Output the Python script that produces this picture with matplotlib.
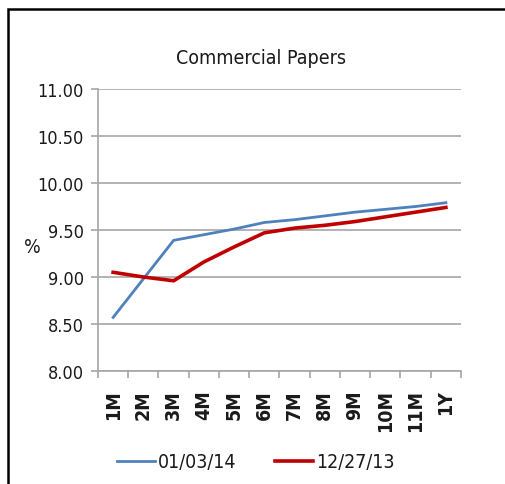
import matplotlib.pyplot as plt
from matplotlib.patches import Rectangle
from matplotlib.ticker import FixedLocator, MultipleLocator

# tenors and yields (%)
tenors = ["1M", "2M", "3M", "4M", "5M", "6M", "7M", "8M", "9M", "10M", "11M", "1Y"]
cp_010314 = [8.57, 8.98, 9.39, 9.45, 9.51, 9.58, 9.61, 9.65, 9.69, 9.72, 9.75, 9.79]
cp_122713 = [9.05, 9.00, 8.96, 9.16, 9.32, 9.47, 9.52, 9.55, 9.59, 9.64, 9.69, 9.74]

plt.rcParams['font.family'] = ['DejaVu Sans']
plt.rcParams['font.stretch'] = 'condensed'

W, H = 506, 485
fig = plt.figure(figsize=(W / 100, H / 100), dpi=100)
ax = fig.add_axes([98 / W, 1 - 372 / H, (461 - 98) / W, (372 - 90) / H])

x = range(len(tenors))
ax.plot(x, cp_010314, color='#4f81bd', lw=2.0, label='01/03/14', solid_joinstyle='miter')
ax.plot(x, cp_122713, color='#c00000', lw=2.6, label='12/27/13', solid_joinstyle='miter')

ax.set_xlim(-0.5, len(tenors) - 0.5)
ax.set_ylim(8.0, 11.0)
ax.yaxis.set_major_locator(MultipleLocator(0.5))
ax.yaxis.set_major_formatter(lambda v, p: f"{v:.2f}")
ax.grid(axis='y', color='#a6a6a6', lw=1.2)
ax.set_axisbelow(True)

ax.set_xticks(list(x))
ax.set_xticklabels(tenors, rotation=90, fontsize=14, fontweight='bold', color='#1a1a1a')
ax.xaxis.set_minor_locator(FixedLocator([i - 0.5 for i in range(len(tenors) + 1)]))
ax.tick_params(axis='x', which='major', length=0, pad=13)
ax.tick_params(axis='x', which='minor', length=5, color='#a6a6a6', width=1.2)
ax.tick_params(axis='y', length=5, color='#a6a6a6', width=1.2, labelsize=13,
               labelcolor='#1a1a1a', pad=5)

for s in ['top', 'right']:
    ax.spines[s].set_visible(False)
for s in ['left', 'bottom']:
    ax.spines[s].set_color('#a6a6a6')
    ax.spines[s].set_linewidth(1.2)

fig.text(261 / W, 1 - 58 / H, "Commercial Papers", ha='center', va='center',
         fontsize=14, color='#1a1a1a')
fig.text(32 / W, 1 - 248 / H, "%", ha='center', va='center',
         fontsize=14, color='#1a1a1a')

leg = fig.legend(loc='center', bbox_to_anchor=(256 / W, 1 - 463 / H), ncol=2,
                 frameon=False, fontsize=14, handlelength=1.95, handletextpad=0.15,
                 columnspacing=2.0)
for t in leg.get_texts():
    t.set_color('#1a1a1a')

# outer chart border (clipped on right and bottom like the screenshot)
fig.patches.append(Rectangle((8 / W, -0.1), 1.2, 1.1 - 10 / H, transform=fig.transFigure,
                             fill=False, ec='black', lw=1.8))

fig.savefig('out.png', dpi=100)
